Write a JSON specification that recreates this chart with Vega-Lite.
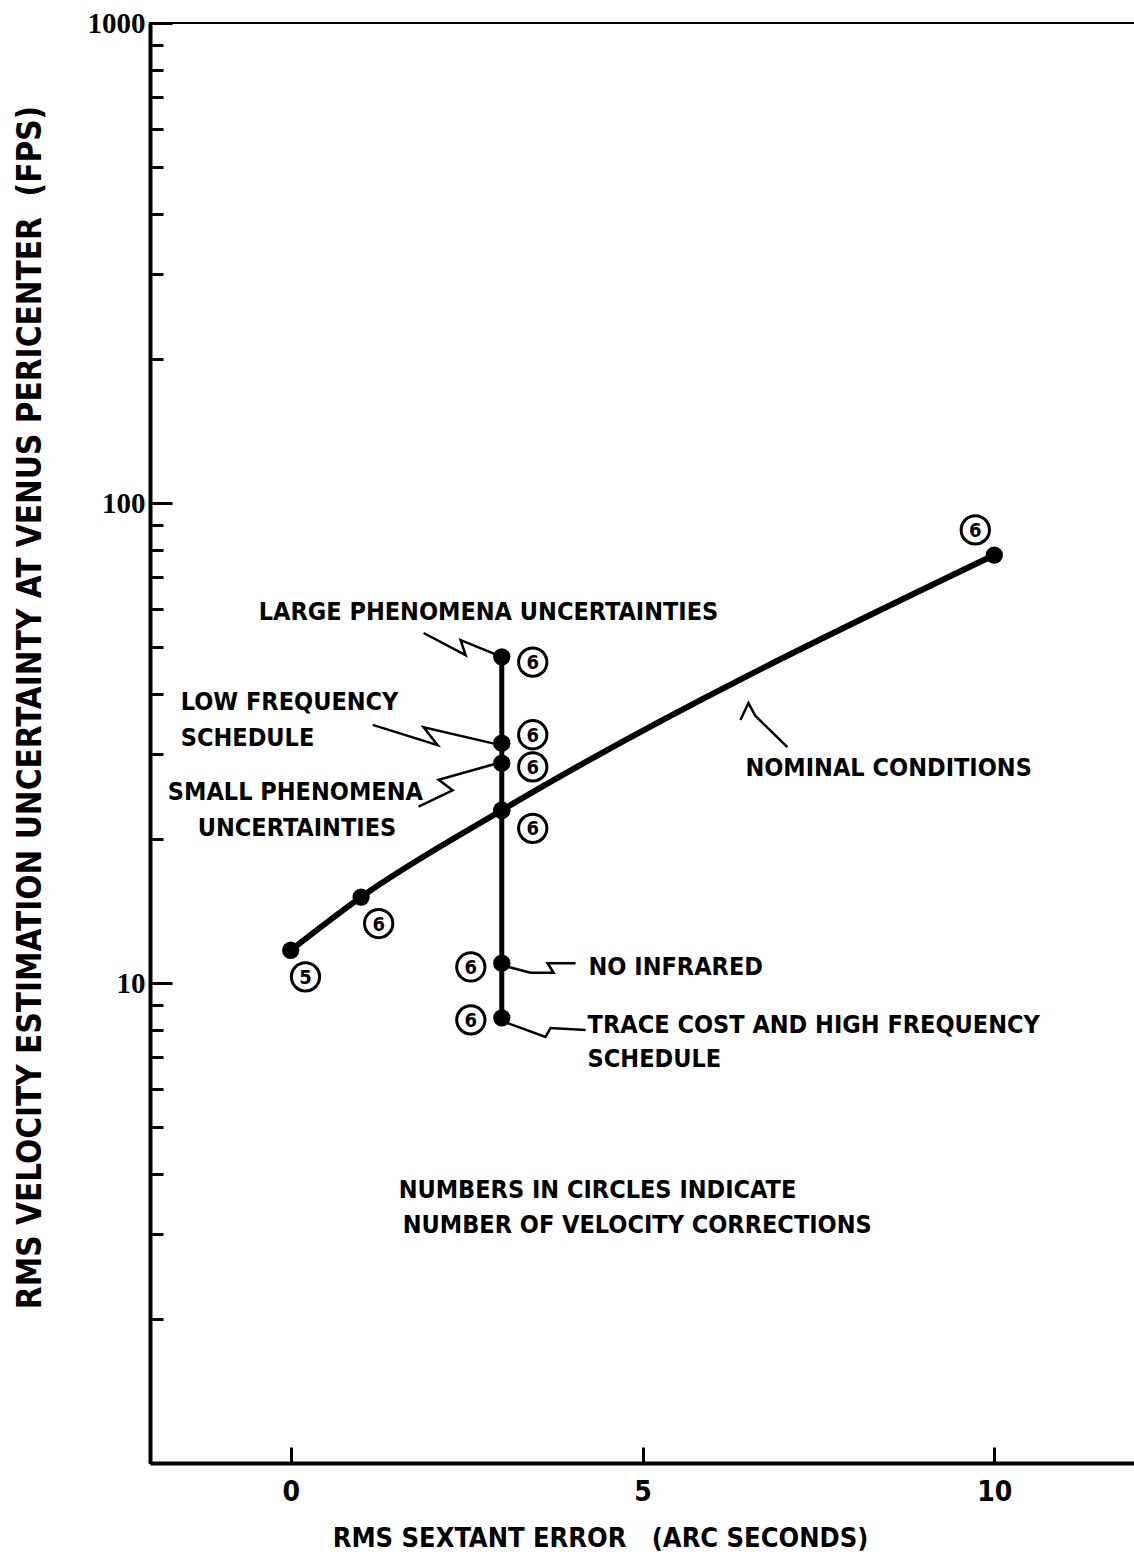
{
  "$schema": "https://vega.github.io/schema/vega-lite/v6.json",
  "width": 985,
  "height": 1440,
  "autosize": {"type": "none"},
  "padding": {"left": 150, "top": 23, "right": 0, "bottom": 97},
  "background": "white",
  "config": {
    "view": {"stroke": "black", "strokeWidth": 2},
    "axis": {"domainColor": "black", "tickColor": "black", "labelColor": "black", "titleColor": "black", "grid": false},
    "text": {"font": "DejaVu Sans Condensed", "fontWeight": "bold", "color": "black"}
  },
  "datasets": {
    "lines": [
      {"series": "nominal", "ord": 1, "x": 0, "y": 11.7},
      {"series": "nominal", "ord": 2, "x": 1, "y": 15.1},
      {"series": "nominal", "ord": 3, "x": 3, "y": 22.9},
      {"series": "nominal", "ord": 4, "x": 10, "y": 77.9},
      {"series": "vertical", "ord": 1, "x": 3, "y": 8.46},
      {"series": "vertical", "ord": 2, "x": 3, "y": 11.0},
      {"series": "vertical", "ord": 3, "x": 3, "y": 22.9},
      {"series": "vertical", "ord": 4, "x": 3, "y": 28.7},
      {"series": "vertical", "ord": 5, "x": 3, "y": 31.6},
      {"series": "vertical", "ord": 6, "x": 3, "y": 47.8}
    ],
    "circles": [
      {"n": "5", "x": 0.21, "y": 10.3},
      {"n": "6", "x": 1.25, "y": 13.3},
      {"n": "6", "x": 3.44, "y": 21.0},
      {"n": "6", "x": 3.44, "y": 28.2},
      {"n": "6", "x": 3.44, "y": 32.9},
      {"n": "6", "x": 3.44, "y": 46.6},
      {"n": "6", "x": 2.56, "y": 10.8},
      {"n": "6", "x": 2.56, "y": 8.38},
      {"n": "6", "x": 9.73, "y": 87.9}
    ],
    "leaders": [
      {"id": "large", "ord": 1, "x": 1.889, "y": 53.6},
      {"id": "large", "ord": 2, "x": 2.486, "y": 48.2},
      {"id": "large", "ord": 3, "x": 2.415, "y": 51.8},
      {"id": "large", "ord": 4, "x": 2.94, "y": 48.2},
      {"id": "low", "ord": 1, "x": 1.165, "y": 34.5},
      {"id": "low", "ord": 2, "x": 2.088, "y": 31.3},
      {"id": "low", "ord": 3, "x": 1.889, "y": 34.1},
      {"id": "low", "ord": 4, "x": 2.983, "y": 31.3},
      {"id": "small", "ord": 1, "x": 1.818, "y": 23.3},
      {"id": "small", "ord": 2, "x": 2.301, "y": 25.2},
      {"id": "small", "ord": 3, "x": 2.102, "y": 26.5},
      {"id": "small", "ord": 4, "x": 2.94, "y": 28.7},
      {"id": "noir", "ord": 1, "x": 3.097, "y": 10.8},
      {"id": "noir", "ord": 2, "x": 3.409, "y": 10.5},
      {"id": "noir", "ord": 3, "x": 3.736, "y": 10.5},
      {"id": "noir", "ord": 4, "x": 3.651, "y": 11.0},
      {"id": "noir", "ord": 5, "x": 4.048, "y": 11.0},
      {"id": "trace", "ord": 1, "x": 3.082, "y": 8.25},
      {"id": "trace", "ord": 2, "x": 3.622, "y": 7.72},
      {"id": "trace", "ord": 3, "x": 3.693, "y": 8.06},
      {"id": "trace", "ord": 4, "x": 4.19, "y": 7.98},
      {"id": "nominal", "ord": 1, "x": 6.392, "y": 35.3},
      {"id": "nominal", "ord": 2, "x": 6.506, "y": 38.3},
      {"id": "nominal", "ord": 3, "x": 6.605, "y": 36.0},
      {"id": "nominal", "ord": 4, "x": 7.06, "y": 31.0}
    ],
    "labels": [
      {"t": "LARGE PHENOMENA UNCERTAINTIES", "x": -0.455, "y": 59.3},
      {"t": "LOW FREQUENCY", "x": -1.5625, "y": 38.5},
      {"t": "SCHEDULE", "x": -1.5625, "y": 32.4},
      {"t": "SMALL PHENOMENA", "x": -1.747, "y": 25.0},
      {"t": "UNCERTAINTIES", "x": -1.321, "y": 21.0},
      {"t": "NOMINAL CONDITIONS", "x": 6.463, "y": 28.0},
      {"t": "NO INFRARED", "x": 4.233, "y": 10.8},
      {"t": "TRACE COST AND HIGH FREQUENCY", "x": 4.22, "y": 8.18},
      {"t": "SCHEDULE", "x": 4.22, "y": 6.95},
      {"t": "NUMBERS IN CIRCLES INDICATE", "x": 1.534, "y": 3.71},
      {"t": "NUMBER OF VELOCITY CORRECTIONS", "x": 1.591, "y": 3.13}
    ]
  },
  "encoding": {
    "x": {
      "field": "x", "type": "quantitative",
      "scale": {"domain": [-2, 12], "nice": false, "zero": false},
      "axis": {
        "values": [0, 5, 10],
        "tickSize": -16, "tickWidth": 3, "domainWidth": 4,
        "labelFont": "DejaVu Sans Condensed", "labelFontWeight": "bold", "labelFontSize": 28,
        "labelPadding": 31,
        "title": "RMS SEXTANT ERROR \u00a0\u00a0(ARC SECONDS)",
        "titleFont": "DejaVu Sans Condensed", "titleFontWeight": "bold", "titleFontSize": 27,
        "titleX": 450, "titleY": 83, "titleBaseline": "alphabetic", "titleAnchor": "middle"
      }
    },
    "y": {
      "field": "y", "type": "quantitative",
      "scale": {"type": "log", "domain": [1, 1000], "nice": false},
      "axis": {
        "values": [1, 2, 3, 4, 5, 6, 7, 8, 9, 10, 20, 30, 40, 50, 60, 70, 80, 90, 100, 200, 300, 400, 500, 600, 700, 800, 900, 1000],
        "labelExpr": "datum.value == 1000 ? '1000' : datum.value == 100 ? '100' : datum.value == 10 ? '10' : ''",
        "tickSize": {"condition": {"test": "datum.value == 10 || datum.value == 100 || datum.value == 1000", "value": -22}, "value": -13},
        "tickWidth": 3, "domainWidth": 4,
        "labelFont": "Liberation Serif", "labelFontWeight": "bold", "labelFontSize": 29,
        "labelPadding": 27,
        "title": "RMS VELOCITY ESTIMATION UNCERTAINTY AT VENUS PERICENTER \u00a0(FPS)",
        "titleFont": "DejaVu Sans Condensed", "titleFontWeight": "bold", "titleFontSize": 33,
        "titleX": -120, "titleY": 684, "titleAngle": 270, "titleBaseline": "middle", "titleAnchor": "middle"
      }
    }
  },
  "layer": [
    {
      "data": {"name": "lines"},
      "transform": [{"filter": "datum.series == 'nominal'"}],
      "mark": {"type": "line", "color": "black", "strokeWidth": 6, "interpolate": "monotone"},
      "encoding": {"order": {"field": "ord"}}
    },
    {
      "data": {"name": "lines"},
      "transform": [{"filter": "datum.series == 'vertical'"}],
      "mark": {"type": "line", "color": "black", "strokeWidth": 5},
      "encoding": {"order": {"field": "ord"}}
    },
    {
      "data": {"name": "leaders"},
      "mark": {"type": "line", "color": "black", "strokeWidth": 2.5},
      "encoding": {"detail": {"field": "id"}, "order": {"field": "ord"}}
    },
    {
      "data": {"name": "lines"},
      "mark": {"type": "point", "shape": "circle", "filled": true, "color": "black", "opacity": 1, "size": 300}
    },
    {
      "data": {"name": "circles"},
      "mark": {"type": "point", "shape": "circle", "filled": false, "color": "black", "opacity": 1, "size": 800, "strokeWidth": 3}
    },
    {
      "data": {"name": "circles"},
      "mark": {"type": "text", "fontSize": 20, "align": "center", "baseline": "middle", "dy": 1},
      "encoding": {"text": {"field": "n"}}
    },
    {
      "data": {"name": "labels"},
      "mark": {"type": "text", "fontSize": 25, "align": "left", "baseline": "middle"},
      "encoding": {"text": {"field": "t"}}
    }
  ]
}
